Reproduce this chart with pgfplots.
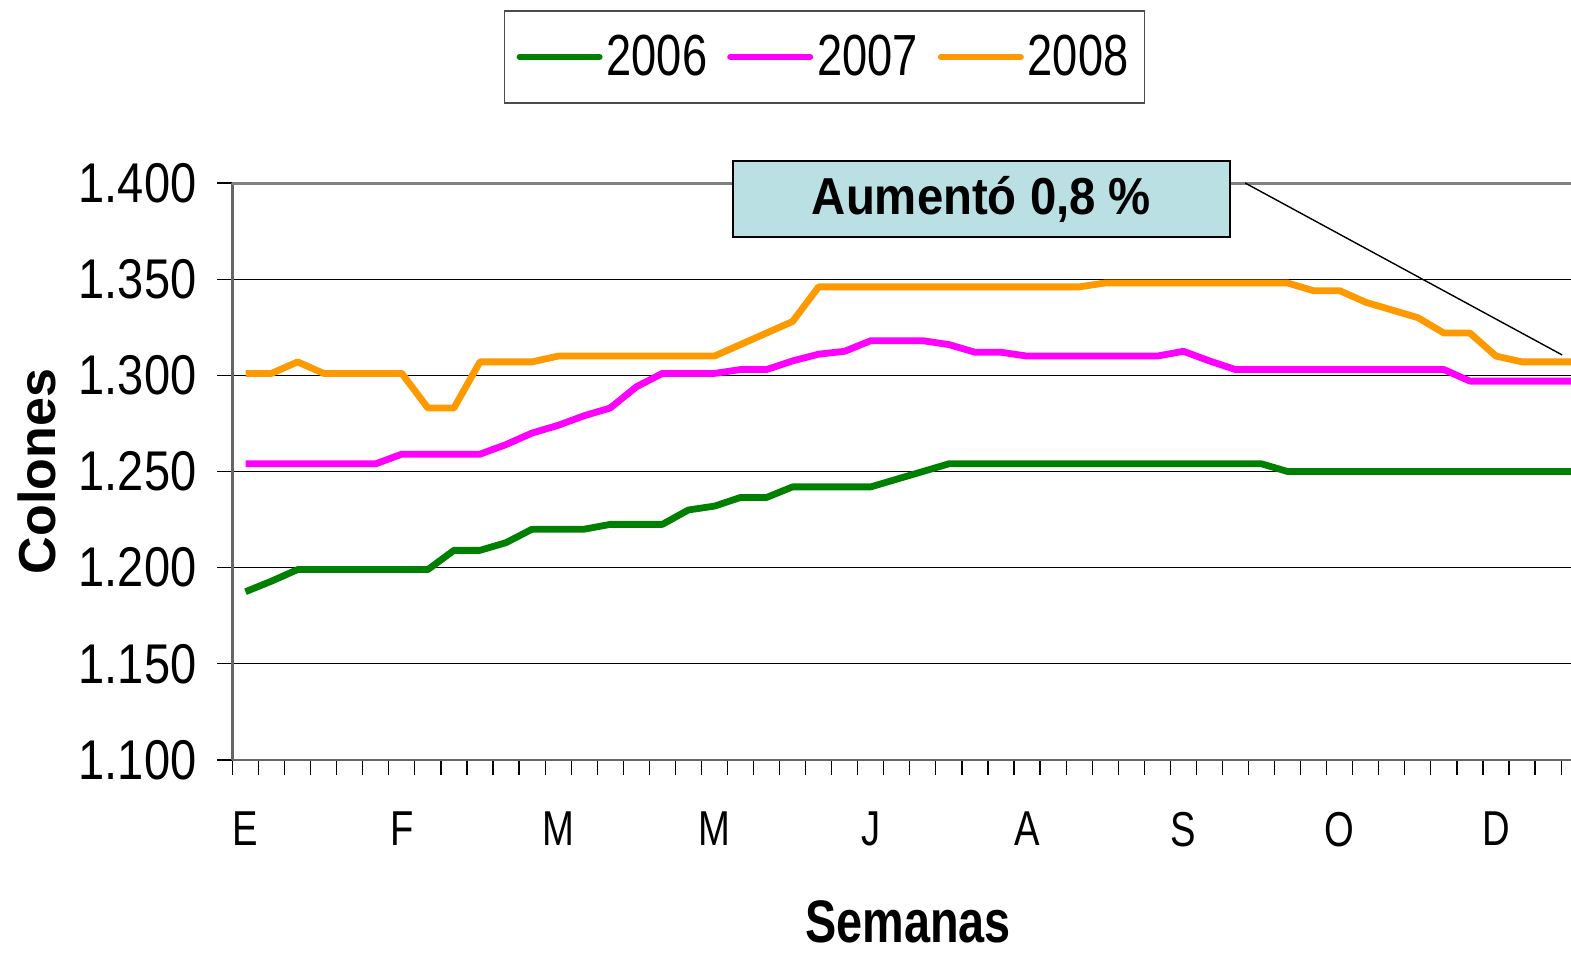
\documentclass[border=0pt]{standalone}
\usepackage{pgfplots}
\usepackage{pgfplotstable}
\pgfplotsset{compat=1.18}
\usepackage{fontspec}
\setmainfont{Liberation Sans}
\newfontfamily\fTick{Liberation Sans}[FakeStretch=0.84]
\newfontfamily\fLeg{Liberation Sans}[FakeStretch=0.78]
\newfontfamily\fBox{Liberation Sans}[FakeStretch=0.91]
\definecolor{c6}{HTML}{008000}
\definecolor{c7}{HTML}{FF00FF}
\definecolor{c8}{HTML}{FF9900}
\definecolor{boxfill}{HTML}{BAE0E3}

\pgfplotstableread{
k g m o
0 1187.5 1254 1301
1 1193 1254 1301
2 1199 1254 1307
3 1199 1254 1301
4 1199 1254 1301
5 1199 1254 1301
6 1199 1259 1301
7 1199 1259 1283
8 1209 1259 1283
9 1209 1259 1307
10 1213 1264 1307
11 1220 1270 1307
12 1220 1274 1310
13 1220 1279 1310
14 1222.5 1283 1310
15 1222.5 1294 1310
16 1222.5 1301 1310
17 1230 1301 1310
18 1232 1301 1310
19 1236.5 1303 1316
20 1236.5 1303 1322
21 1242 1307.5 1328
22 1242 1311 1346
23 1242 1312.5 1346
24 1242 1318 1346
25 1246 1318 1346
26 1250 1318 1346
27 1254 1316 1346
28 1254 1312 1346
29 1254 1312 1346
30 1254 1310 1346
31 1254 1310 1346
32 1254 1310 1346
33 1254 1310 1348
34 1254 1310 1348
35 1254 1310 1348
36 1254 1312.5 1348
37 1254 1307.5 1348
38 1254 1303 1348
39 1254 1303 1348
40 1250 1303 1348
41 1250 1303 1344
42 1250 1303 1344
43 1250 1303 1338
44 1250 1303 1334
45 1250 1303 1330
46 1250 1303 1322
47 1250 1297 1322
48 1250 1297 1310
49 1250 1297 1307
50 1250 1297 1307
51 1250 1297 1307
}\datatable

\begin{document}
\begin{tikzpicture}
\begin{axis}[
  at={(0,0)}, anchor=south west,
  scale only axis, width=669.25pt, height=288.5pt,
  xmin=-0.5, xmax=50.88, ymin=1100, ymax=1400,
  clip=false,
  axis lines*=left,
  axis line style={draw=black!60, line width=1.3pt},
  xtick={-0.5,0.5,...,50.5}, xticklabels={},
  extra x ticks={0,6,...,48},
  extra x tick labels={E,F,M,M,J,A,S,O,D},
  extra x tick style={major tick length=0pt, tick label style={font=\fLeg\fontsize{24.5}{26}\selectfont, yshift=-22.5pt}},
  ytick={1100,1150,...,1400},
  ymajorgrids, grid style={black, line width=0.6pt},
  tick align=outside, major tick length=7.5pt,
  tick style={black, line width=0.6pt},
  yticklabel style={font=\fTick\fontsize{28}{30}\selectfont, xshift=-7pt},
  /pgf/number format/1000 sep={.},
  /pgf/number format/assume math mode=true,
  ylabel={Colones},
  ylabel style={at={(axis description cs:-0.1464,0.5)}, anchor=center, font=\fontsize{26}{28}\selectfont\bfseries},
  xlabel={Semanas},
  xlabel style={at={(axis description cs:0.5047,-0.281)}, anchor=center, font=\fLeg\fontsize{30}{32}\selectfont\bfseries},
  legend columns=3,
  legend style={at={(axis description cs:0.4423,1.2184)}, anchor=center, draw=black!70, line width=0.8pt, font=\fLeg\fontsize{29}{30}\selectfont, inner xsep=6pt, inner ysep=10pt, /tikz/every even column/.append style={column sep=8pt}},
  legend image code/.code={\draw[#1, line width=3pt, line cap=round] (0pt,0pt) -- (40pt,0pt);},
]
\addplot[c6, line width=3.4pt, line join=round, mark=none] table[x=k,y=g] {\datatable};
\addplot[c7, line width=3.4pt, line join=round, mark=none] table[x=k,y=m] {\datatable};
\addplot[c8, line width=3.4pt, line join=round, mark=none] table[x=k,y=o] {\datatable};
\legend{2006,2007,2008}
\draw[black!50, line width=1.5pt] (rel axis cs:0,1) -- (rel axis cs:1,1);
\draw[black, line width=0.7pt] (axis cs:38.37,1400) -- (axis cs:50.54,1310.6);
\node[draw=black, line width=1pt, fill=boxfill, minimum width=248.5pt, minimum height=38pt, inner sep=0pt, font=\fBox\fontsize{26}{28}\selectfont\bfseries] at (axis cs:28.25,1391.7) {Aumentó 0,8 \%};
\end{axis}
\pgfresetboundingbox
\useasboundingbox (-116.25pt,-96.5pt) rectangle (669.25pt,380pt);
\end{tikzpicture}
\end{document}
